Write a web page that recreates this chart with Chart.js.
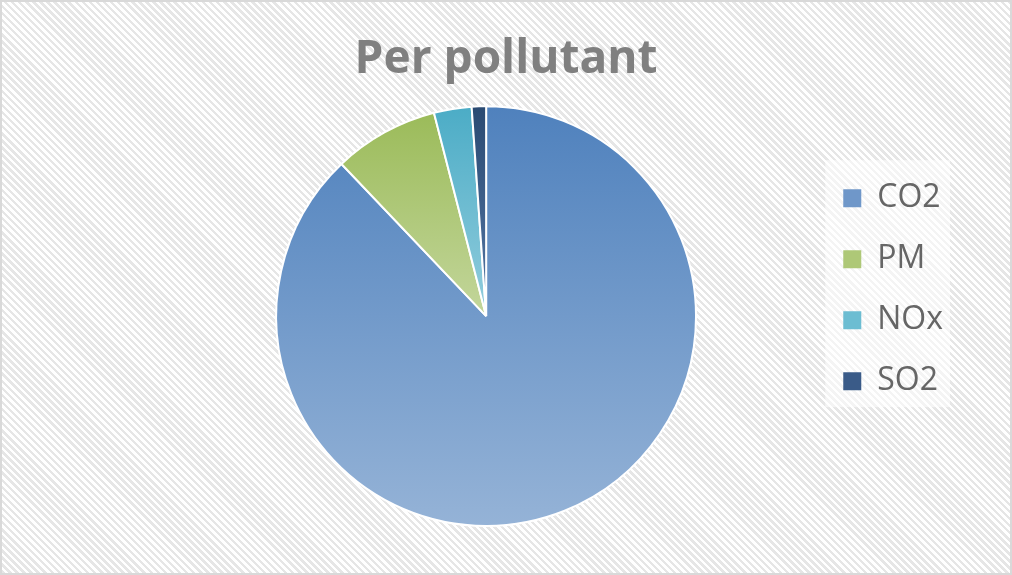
<!DOCTYPE html>
<html>
<head>
<meta charset="utf-8">
<script src="https://cdn.jsdelivr.net/npm/chart.js@4/dist/chart.umd.min.js"></script>
<style>
body{margin:0;background:#fff}
#chart{
display:block;
background:repeating-linear-gradient(45deg,#ffffff 0px,#ffffff 2.5px,#e6e6e6 2.5px,#e6e6e6 5px)
}
</style>
</head>
<body>
<canvas id="chart" width="1012" height="575"></canvas>
<script>

let labels=["CO2","PM","NOx","SO2"]
let values=[87.9,8.1,2.9,1.1]

let topColors=["#4f81bd","#9bbb59","#4bacc6","#2a4a72"]
let bottomColors=["#95b3d7","#c3d69b","#93cddd","#5578a6"]
let legendColors=["#6f97c9","#aec877","#6cbdd2","#3a5b88"]


// vertical gradient over the bounding box of each slice
function sliceFill(c){

let chart=c.chart
let a=chart.chartArea
let i=c.dataIndex

if(!a) return topColors[i]

let cx=(a.left+a.right)/2
let cy=(a.top+a.bottom)/2
let r=Math.min(a.right-a.left,a.bottom-a.top)/2

let total=values.reduce((s,v)=>s+v,0)
let start=0
for(let j=0;j<i;j++) start+=values[j]

let a0=start/total*Math.PI*2
let a1=(start+values[i])/total*Math.PI*2

let ys=[cy,cy-r*Math.cos(a0),cy-r*Math.cos(a1)]
if(a0<=0) ys.push(cy-r)
if(a0<=Math.PI&&a1>=Math.PI) ys.push(cy+r)

let g=chart.ctx.createLinearGradient(0,Math.min(...ys),0,Math.max(...ys))
g.addColorStop(0,topColors[i])
g.addColorStop(1,bottomColors[i])
return g

}


let frame={
id:"frame",
afterLayout(chart){
// title centred on the whole canvas, not on the padded box
let t=chart.titleBlock
if(t){
t.left=0
t.right=chart.width
t.width=chart.width
}
},
beforeDraw(chart){
// faint white panel behind the legend
let h=chart.legend&&chart.legend.legendHitBoxes
if(!h||!h.length) return
let first=h[0]
let last=h[h.length-1]
let right=Math.max(...h.map(b=>b.left+b.width))
let ctx=chart.ctx
ctx.save()
ctx.fillStyle="rgba(255,255,255,0.55)"
ctx.fillRect(first.left-18,first.top-22,right-first.left+25,last.top+last.height-first.top+32)
ctx.restore()
},
afterDraw(chart){
let ctx=chart.ctx
ctx.save()
ctx.strokeStyle="#d9d9d9"
ctx.lineWidth=2
ctx.strokeRect(1,1,chart.width-2,chart.height-2)
ctx.restore()
}
}


new Chart(
document.getElementById("chart"),
{
type:"pie",
data:{
labels:labels,
datasets:[{
data:values,
backgroundColor:sliceFill,
borderColor:"#ffffff",
borderWidth:2
}]
},
options:{
responsive:false,
animation:false,
layout:{
padding:{left:158,right:59,top:0,bottom:48}
},
plugins:{
title:{
display:true,
text:"Per pollutant",
color:"#808080",
font:{family:"Open Sans",size:46,weight:"bold"},
padding:{top:32,bottom:18}
},
legend:{
position:"right",
align:"start",
fullSize:false,
title:{
display:true,
text:" ",
font:{size:10},
padding:{top:0,bottom:36}
},
labels:{
color:"#595959",
font:{family:"Open Sans",size:32},
boxWidth:18,
boxHeight:18,
padding:29,
generateLabels(chart){
return labels.map((l,i)=>({
text:l,
fillStyle:legendColors[i],
strokeStyle:legendColors[i],
lineWidth:0,
hidden:false,
index:i
}))
}
}
},
tooltip:{enabled:false}
}
},
plugins:[frame]
})

</script>
</body>
</html>
